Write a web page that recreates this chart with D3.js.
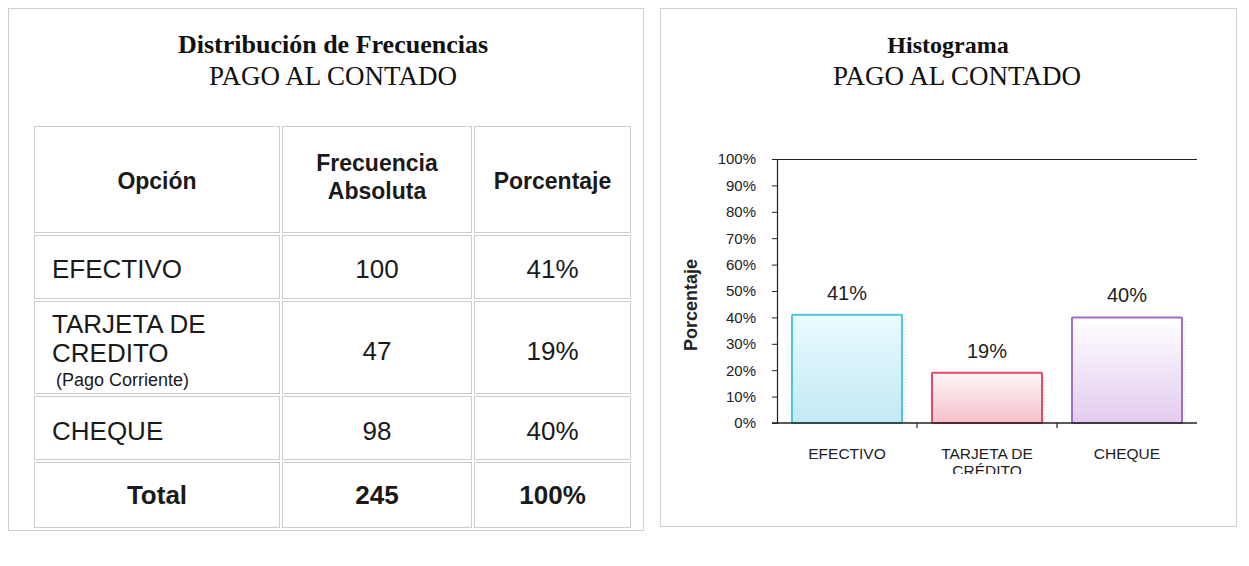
<!DOCTYPE html>
<html>
<head>
<meta charset="utf-8">
<script src="https://cdn.jsdelivr.net/npm/d3@7"></script>
<style>
  html, body { margin: 0; padding: 0; background: #fff; }
  svg { display: block; }
</style>
</head>
<body>
<svg id="page" width="1249" height="566"></svg>
<script>
// Payment options and their counts
const options = ["EFECTIVO", "TARJETA DE CREDITO", "CHEQUE"];
const frequencies = [100, 47, 98];
const percentages = [41, 19, 40];
const totalFrequency = 245;
const totalPercent = 100;

// Histogram categories and tick labels
const chartCategories = ["EFECTIVO", "TARJETA DE CRÉDITO", "CHEQUE"];
const yTicks = [0, 10, 20, 30, 40, 50, 60, 70, 80, 90, 100];

const serif = "'Liberation Serif', 'Times New Roman', serif";
const sans = "'Liberation Sans', Arial, sans-serif";

const svg = d3.select("#page");

// ---------- Panels ----------
const panelStroke = "#cfcfcf";
svg.append("rect").attr("x", 8.5).attr("y", 8.5).attr("width", 635).attr("height", 522)
  .attr("fill", "none").attr("stroke", panelStroke);
svg.append("rect").attr("x", 660.5).attr("y", 8.5).attr("width", 576).attr("height", 518)
  .attr("fill", "none").attr("stroke", panelStroke);

// ---------- Left panel: frequency table ----------
const left = svg.append("g");
left.append("text").attr("x", 333).attr("y", 53).attr("text-anchor", "middle")
  .attr("font-family", serif).attr("font-weight", "bold").attr("font-size", 26).attr("fill", "#111")
  .text("Distribución de Frecuencias");
left.append("text").attr("x", 333).attr("y", 85).attr("text-anchor", "middle")
  .attr("font-family", serif).attr("font-size", 27).attr("fill", "#111")
  .text("PAGO AL CONTADO");

const colEdges = [33, 281, 473, 632];
const rowEdges = [125, 234, 300, 395, 461, 529];
const cellStroke = "#cdcdcd";

// cell boxes, drawn slightly inset so neighbouring borders read as double lines
const cells = [];
for (let r = 0; r < rowEdges.length - 1; r++) {
  for (let c = 0; c < colEdges.length - 1; c++) {
    cells.push({ x0: colEdges[c], x1: colEdges[c + 1], y0: rowEdges[r], y1: rowEdges[r + 1] });
  }
}
left.append("g").selectAll("rect").data(cells).join("rect")
  .attr("x", d => d.x0 + 1.5).attr("y", d => d.y0 + 1.5)
  .attr("width", d => d.x1 - d.x0 - 3).attr("height", d => d.y1 - d.y0 - 3)
  .attr("fill", "none").attr("stroke", cellStroke).attr("stroke-width", 1);

const colCenter = c => (colEdges[c] + colEdges[c + 1]) / 2;
const txt = "#1a1a1a";

// header row
left.append("text").attr("x", colCenter(0)).attr("y", 189).attr("text-anchor", "middle")
  .attr("font-family", sans).attr("font-weight", "bold").attr("font-size", 23).attr("fill", txt)
  .text("Opción");
left.append("text").attr("x", colCenter(1)).attr("y", 171).attr("text-anchor", "middle")
  .attr("font-family", sans).attr("font-weight", "bold").attr("font-size", 23).attr("fill", txt)
  .text("Frecuencia");
left.append("text").attr("x", colCenter(1)).attr("y", 199).attr("text-anchor", "middle")
  .attr("font-family", sans).attr("font-weight", "bold").attr("font-size", 23).attr("fill", txt)
  .text("Absoluta");
left.append("text").attr("x", colCenter(2)).attr("y", 189).attr("text-anchor", "middle")
  .attr("font-family", sans).attr("font-weight", "bold").attr("font-size", 23).attr("fill", txt)
  .text("Porcentaje");

// body rows
const rowBaselines = [278, 360, 440];
options.forEach((opt, i) => {
  const yb = rowBaselines[i];
  if (opt === "TARJETA DE CREDITO") {
    left.append("text").attr("x", 52).attr("y", 333)
      .attr("font-family", sans).attr("font-size", 26).attr("fill", txt).text("TARJETA DE");
    left.append("text").attr("x", 52).attr("y", 362)
      .attr("font-family", sans).attr("font-size", 26).attr("fill", txt).text("CREDITO");
    left.append("text").attr("x", 56).attr("y", 386)
      .attr("font-family", sans).attr("font-size", 18).attr("fill", txt).text("(Pago Corriente)");
  } else {
    left.append("text").attr("x", 52).attr("y", yb)
      .attr("font-family", sans).attr("font-size", 26).attr("fill", txt).text(opt);
  }
  left.append("text").attr("x", colCenter(1)).attr("y", yb).attr("text-anchor", "middle")
    .attr("font-family", sans).attr("font-size", 26).attr("fill", txt).text(frequencies[i]);
  left.append("text").attr("x", colCenter(2)).attr("y", yb).attr("text-anchor", "middle")
    .attr("font-family", sans).attr("font-size", 26).attr("fill", txt).text(percentages[i] + "%");
});

// total row
[["Total", 0], [totalFrequency, 1], [totalPercent + "%", 2]].forEach(([t, c]) => {
  left.append("text").attr("x", colCenter(c)).attr("y", 504).attr("text-anchor", "middle")
    .attr("font-family", sans).attr("font-weight", "bold").attr("font-size", 26).attr("fill", txt)
    .text(t);
});

// ---------- Right panel: histogram ----------
const right = svg.append("g");
right.append("text").attr("x", 948).attr("y", 53).attr("text-anchor", "middle")
  .attr("font-family", serif).attr("font-weight", "bold").attr("font-size", 24).attr("fill", "#111")
  .text("Histograma");
right.append("text").attr("x", 957).attr("y", 85).attr("text-anchor", "middle")
  .attr("font-family", serif).attr("font-size", 27).attr("fill", "#111")
  .text("PAGO AL CONTADO");

const plot = { left: 777, right: 1197, top: 159, bottom: 423 };

const x = d3.scaleBand().domain(chartCategories).range([plot.left, plot.right])
  .paddingInner(0.214).paddingOuter(0.107);
const y = d3.scaleLinear().domain([0, 100]).range([plot.bottom, plot.top]);

// bar gradients
const defs = svg.append("defs");
const barStyles = [
  { id: "gEfectivo", top: "#e9fbfe", bottom: "#c3e9f6", stroke: "#4fc6de" },
  { id: "gTarjeta", top: "#fff7f8", bottom: "#f6c0c9", stroke: "#e34a66" },
  { id: "gCheque", top: "#ffffff", bottom: "#e3cbef", stroke: "#9d6fc4" }
];
barStyles.forEach(s => {
  const g = defs.append("linearGradient").attr("id", s.id)
    .attr("x1", 0).attr("y1", 0).attr("x2", 0).attr("y2", 1);
  g.append("stop").attr("offset", "0%").attr("stop-color", s.top);
  g.append("stop").attr("offset", "100%").attr("stop-color", s.bottom);
});
defs.append("clipPath").attr("id", "labelClip")
  .append("rect").attr("x", 660).attr("y", 0).attr("width", 580).attr("height", 474);

// top frame line of the plot area
right.append("line").attr("x1", plot.left).attr("x2", plot.right)
  .attr("y1", plot.top + 0.5).attr("y2", plot.top + 0.5)
  .attr("stroke", "#222").attr("stroke-width", 1.2);

// bars
const bars = right.append("g");
chartCategories.forEach((cat, i) => {
  const s = barStyles[i];
  // faint dotted shadow edge
  bars.append("line")
    .attr("x1", x(cat) + x.bandwidth() + 3).attr("x2", x(cat) + x.bandwidth() + 3)
    .attr("y1", y(percentages[i]) + 4).attr("y2", y(0))
    .attr("stroke", "#c8c8c8").attr("stroke-dasharray", "1,2");
  bars.append("rect")
    .attr("x", x(cat)).attr("y", y(percentages[i]))
    .attr("width", x.bandwidth()).attr("height", y(0) - y(percentages[i]))
    .attr("fill", `url(#${s.id})`).attr("stroke", s.stroke).attr("stroke-width", 2)
    .attr("rx", 1);
  bars.append("text")
    .attr("x", x(cat) + x.bandwidth() / 2).attr("y", y(percentages[i]) - 15)
    .attr("text-anchor", "middle").attr("font-family", sans).attr("font-size", 20)
    .attr("fill", "#222").text(percentages[i] + "%");
});

// y axis
const yAxis = right.append("g").attr("transform", `translate(${plot.left},0)`)
  .call(d3.axisLeft(y).tickValues(yTicks).tickFormat(d => d + "%").tickSize(5).tickPadding(16));
yAxis.select(".domain").attr("stroke", "#222").attr("stroke-width", 1.2);
yAxis.selectAll(".tick line").attr("stroke", "#222");
yAxis.selectAll(".tick text").attr("font-family", sans).attr("font-size", 15).attr("fill", "#222");

// x axis with ticks on the category boundaries
right.append("line").attr("x1", plot.left - 5).attr("x2", plot.right)
  .attr("y1", plot.bottom).attr("y2", plot.bottom).attr("stroke", "#222").attr("stroke-width", 1.4);
const boundaries = chartCategories.slice(1).map(c => x(c) - x.step() * x.paddingInner() / 2);
right.append("g").selectAll("line").data(boundaries).join("line")
  .attr("x1", d => d).attr("x2", d => d)
  .attr("y1", plot.bottom).attr("y2", plot.bottom + 5)
  .attr("stroke", "#222").attr("stroke-width", 1.2);

// category labels (second line is cut off by the chart area's lower edge)
const catLabels = right.append("g").attr("clip-path", "url(#labelClip)");
chartCategories.forEach(cat => {
  const cx = x(cat) + x.bandwidth() / 2;
  const words = cat === "TARJETA DE CRÉDITO" ? ["TARJETA DE", "CRÉDITO"] : [cat];
  words.forEach((w, j) => {
    catLabels.append("text").attr("x", cx).attr("y", 459 + j * 17)
      .attr("text-anchor", "middle").attr("font-family", sans).attr("font-size", 15.5)
      .attr("fill", "#222").text(w);
  });
});

// y axis title
right.append("text")
  .attr("transform", `translate(697,${(plot.top + plot.bottom) / 2 + 14}) rotate(-90)`)
  .attr("text-anchor", "middle").attr("font-family", sans).attr("font-weight", "bold")
  .attr("font-size", 18).attr("fill", "#222").text("Porcentaje");
</script>
</body>
</html>
